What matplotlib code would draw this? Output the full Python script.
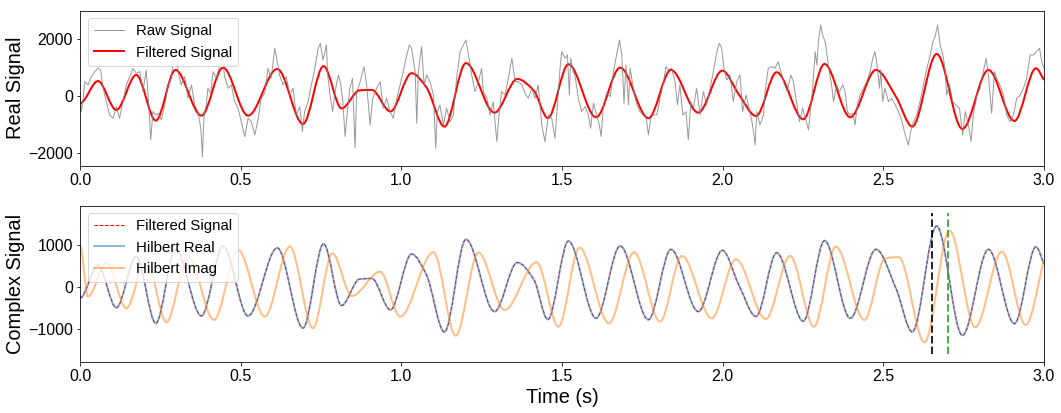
import numpy as np
import matplotlib
matplotlib.use('Agg')
import matplotlib.pyplot as plt
from matplotlib.path import Path
from matplotlib.patches import PathPatch
from matplotlib.lines import Line2D

plt.rcParams['font.family'] = ['Liberation Sans', 'DejaVu Sans']

# raw signal
raw_t = [0.000, 0.004, 0.009, 0.015, 0.025, 0.035, 0.046, 0.056, 0.064, 0.072, 0.082, 0.092, 0.103, 0.113, 0.123,
         0.134, 0.144, 0.155, 0.165, 0.175, 0.186, 0.196, 0.206, 0.214, 0.220, 0.227, 0.236, 0.243, 0.253, 0.264,
         0.274, 0.284, 0.293, 0.300, 0.305, 0.315, 0.326, 0.336, 0.347, 0.357, 0.367, 0.376, 0.381, 0.386, 0.393,
         0.398, 0.407, 0.414, 0.424, 0.435, 0.442, 0.450, 0.461, 0.471, 0.481, 0.492, 0.502, 0.513, 0.523, 0.533,
         0.544, 0.554, 0.564, 0.575, 0.585, 0.595, 0.606, 0.614, 0.621, 0.632, 0.642, 0.653, 0.663, 0.673, 0.684,
         0.692, 0.699, 0.710, 0.720, 0.730, 0.741, 0.748, 0.756, 0.767, 0.770, 0.778, 0.786, 0.794, 0.804, 0.811,
         0.818, 0.825, 0.832, 0.840, 0.848, 0.856, 0.861, 0.869, 0.877, 0.884, 0.892, 0.903, 0.911, 0.923, 0.934,
         0.944, 0.954, 0.965, 0.975, 0.986, 0.996, 1.006, 1.017, 1.025, 1.032, 1.043, 1.048, 1.053, 1.063, 1.071,
         1.079, 1.089, 1.100, 1.107, 1.112, 1.120, 1.131, 1.141, 1.152, 1.162, 1.172, 1.183, 1.193, 1.201, 1.209,
         1.219, 1.229, 1.240, 1.250, 1.255, 1.266, 1.276, 1.286, 1.297, 1.304, 1.312, 1.323, 1.333, 1.344, 1.354,
         1.364, 1.375, 1.385, 1.395, 1.406, 1.416, 1.426, 1.437, 1.447, 1.458, 1.468, 1.478, 1.486, 1.494, 1.499,
         1.510, 1.517, 1.523, 1.527, 1.535, 1.541, 1.551, 1.561, 1.572, 1.582, 1.589, 1.598, 1.608, 1.616, 1.622,
         1.629, 1.639, 1.650, 1.660, 1.670, 1.679, 1.686, 1.693, 1.699, 1.707, 1.712, 1.722, 1.733, 1.743, 1.753,
         1.762, 1.769, 1.776, 1.784, 1.795, 1.805, 1.816, 1.824, 1.831, 1.841, 1.852, 1.859, 1.867, 1.876, 1.886,
         1.893, 1.901, 1.909, 1.919, 1.930, 1.940, 1.950, 1.961, 1.971, 1.982, 1.990, 1.997, 2.004, 2.013, 2.023,
         2.033, 2.044, 2.054, 2.062, 2.073, 2.080, 2.090, 2.096, 2.101, 2.106, 2.116, 2.127, 2.132, 2.142, 2.153,
         2.163, 2.173, 2.181, 2.191, 2.201, 2.212, 2.220, 2.231, 2.239, 2.249, 2.259, 2.267, 2.272, 2.280, 2.288,
         2.293, 2.298, 2.305, 2.311, 2.319, 2.326, 2.332, 2.339, 2.345, 2.355, 2.363, 2.374, 2.381, 2.388, 2.397,
         2.405, 2.412, 2.419, 2.428, 2.438, 2.448, 2.459, 2.467, 2.474, 2.482, 2.488, 2.492, 2.498, 2.505, 2.516,
         2.526, 2.537, 2.547, 2.557, 2.568, 2.578, 2.585, 2.594, 2.604, 2.614, 2.625, 2.633, 2.646, 2.654, 2.661,
         2.669, 2.677, 2.685, 2.692, 2.697, 2.706, 2.716, 2.726, 2.737, 2.747, 2.755, 2.765, 2.773, 2.780, 2.791,
         2.801, 2.811, 2.820, 2.827, 2.837, 2.846, 2.853, 2.863, 2.874, 2.884, 2.894, 2.905, 2.915, 2.926, 2.936,
         2.946, 2.957, 2.967, 2.977, 2.986, 2.993, 3.000]
raw_v = [93, -546, -197, 499, 383, 673, 848, 964, 906, 267, -197, -662, -778, -372, -778,
         -197, 383, 673, 964, 789, 848, 151, 906, -313, -1533, -546, -662, -604, -836, -313,
         383, 615, 1544, 1660, 848, 383, 673, -81, 383, -313, -546, -1126, -2113, -662, -313,
         267, 93, 848, 615, 1080, 1428, 673, 267, 383, -197, -430, -894, -1416, -778, -894,
         -1358, -836, -81, 93, 964, 615, 1660, 1196, 731, 383, 673, 35, 267, -662, -372,
         -1242, -546, -197, 383, 906, 1660, 1834, 1254, 1776, 848, 35, -546, 151, 731, 441,
         -197, -1416, -546, 267, 615, -1823, 151, 383, 731, 1022, 383, -1010, -81, 267, 499,
         -430, -81, -546, -778, -81, 383, 848, 1428, 1776, 1660, 848, -952, 848, 1718, 383,
         731, 499, 35, -1823, -546, -313, -1010, -430, -894, -662, 615, 1544, 1776, 1950, 1428,
         731, 151, 499, 964, 151, -81, -662, -197, -1591, -662, 151, 35, 615, 1312, 499,
         499, 383, 93, -81, 267, -81, 383, -1010, -1591, -662, -778, -1474, -313, 964, 1544,
         1312, 1428, 35, 1312, 848, 673, -81, -546, -372, -662, -1126, -255, -662, -1010, -1416,
         -313, 93, -23, 848, 1428, 1950, 1428, -255, 1080, -313, 964, 267, -313, -546, -662,
         -778, -1358, -778, -662, -662, -81, 499, 1022, 906, 964, 499, -313, 383, -662, -546,
         -1533, -197, -430, 267, -662, 151, -313, 267, 848, 1544, 1834, 1660, 964, 557, 731,
         -197, 499, 731, -546, 35, -313, -836, -1242, -1707, -546, -1010, -662, 151, 964, 1022,
         964, 1196, 848, 441, 151, 731, 499, -313, -894, -430, -836, -1184, -662, 267, 1544,
         1080, 1892, 2473, 2125, 1892, 1312, 848, 383, -197, 383, 151, 383, 151, -546, -662,
         -604, -1010, -313, 35, 267, 499, 848, 1312, 1544, 964, 267, 906, -197, 267, -197,
         -81, -313, -546, -836, -1358, -1707, -1242, -894, -662, -197, 383, 848, 1428, 1892, 2067,
         2473, 1776, 1428, 964, 35, 383, -197, -313, -430, -1358, -546, -1010, -1591, -662, 35,
         267, 848, 1312, 731, -604, 848, 615, 383, 35, -662, -894, -662, -81, 35, 267,
         615, 1428, 1428, 1544, 1660, 1196, 964]

# band-pass filtered signal: turning points (and a few shoulders)
filt_t = [0.000, 0.056, 0.113, 0.175, 0.236, 0.297, 0.378, 0.445, 0.523, 0.614, 0.694, 0.758, 0.814, 0.870,
          0.908, 0.966, 1.032, 1.078, 1.134, 1.201, 1.290, 1.361, 1.412, 1.456, 1.520, 1.606, 1.681, 1.769,
          1.839, 1.924, 1.999, 2.050, 2.104, 2.168, 2.251, 2.317, 2.397, 2.477, 2.540, 2.590, 2.666, 2.746,
          2.827, 2.908, 2.975, 3.000]
filt_v = [-255, 520, -488, 732, -860, 906, -686, 986, -686, 941, -976, 1040, -436, 195,
          210, -540, 794, 300, -1070, 1145, -582, 592, 190, -770, 1104, -742, 986, -777,
          906, -582, 882, 60, -697, 826, -812, 1115, -742, 906, -40, -1068, 1463, -1150,
          906, -871, 965, 557]

# imaginary part of the analytic signal: turning points
imag_t = [0.000, 0.025, 0.082, 0.144, 0.206, 0.269, 0.336, 0.417, 0.492, 0.575, 0.653, 0.725, 0.785, 0.846,
          0.934, 0.996, 1.100, 1.169, 1.240, 1.321, 1.421, 1.489, 1.554, 1.646, 1.724, 1.805, 1.873, 1.966,
          2.041, 2.134, 2.210, 2.284, 2.352, 2.441, 2.505, 2.548, 2.628, 2.706, 2.786, 2.869, 2.943, 3.000]
imag_v = [1000, -223, 590, -502, 670, -837, 750, -782, 893, -702, 973, -981, 813, -208,
          373, -702, 837, -1158, 829, -543, 598, -942, 948, -862, 837, -822, 750, -742,
          670, -758, 750, -942, 973, -782, 690, 720, -1316, 1354, -957, 852, -902, 653]

event_times = [2.65, 2.70]
event_colors = ['k', '#2ca02c']


def smooth_path(t, v):
    # cubic Hermite pieces between the read points, handed to matplotlib as Bezier segments
    t = np.asarray(t, float)
    v = np.asarray(v, float)
    d = np.diff(v) / np.diff(t)
    m = np.zeros_like(v)
    for i in range(1, len(v) - 1):
        if d[i - 1] * d[i] > 0:
            m[i] = 2.0 / (1.0 / d[i - 1] + 1.0 / d[i])
    m[-1] = d[-1]
    verts = [(t[0], v[0])]
    codes = [Path.MOVETO]
    for i in range(len(t) - 1):
        h = t[i + 1] - t[i]
        verts += [(t[i] + h / 3, v[i] + m[i] * h / 3),
                  (t[i + 1] - h / 3, v[i + 1] - m[i + 1] * h / 3),
                  (t[i + 1], v[i + 1])]
        codes += [Path.CURVE4] * 3
    return Path(verts, codes)


W, H, DPI = 1061, 413, 72
fig = plt.figure(figsize=(W / DPI, H / DPI), dpi=DPI)
ax1 = fig.add_axes([80 / W, 1 - 165.7 / H, 964 / W, 155 / H])
ax2 = fig.add_axes([80 / W, 1 - 361.7 / H, 964 / W, 156 / H])

# top: raw vs filtered
ax1.plot(raw_t, raw_v, color='grey', alpha=0.8, lw=1)
ax1.add_patch(PathPatch(smooth_path(filt_t, filt_v), fill=False, edgecolor='r', lw=2))
ax1.legend(handles=[Line2D([], [], color='grey', alpha=0.8, lw=1),
                    Line2D([], [], color='r', lw=2)],
           labels=['Raw Signal', 'Filtered Signal'], loc='upper left', fontsize=15)
ax1.set_xlim(0, 3)
ax1.set_ylim(-2430, 2970)
ax1.set_yticks([-2000, 0, 2000])
ax1.set_ylabel('Real Signal', fontsize=20, labelpad=3)

# bottom: filtered vs hilbert parts
ax2.add_patch(PathPatch(smooth_path(filt_t, filt_v), fill=False, edgecolor='r', lw=1, linestyle='--'))
ax2.add_patch(PathPatch(smooth_path(filt_t, filt_v), fill=False, edgecolor='tab:blue', alpha=0.5, lw=2))
ax2.add_patch(PathPatch(smooth_path(imag_t, imag_v), fill=False, edgecolor='tab:orange', alpha=0.5, lw=2))
for x, c in zip(event_times, event_colors):
    ax2.axvline(x, ymin=0.05, ymax=0.95, color=c, linestyle='--', lw=2, alpha=0.85)
ax2.legend(handles=[Line2D([], [], color='r', lw=1, linestyle='--'),
                    Line2D([], [], color='tab:blue', alpha=0.5, lw=2),
                    Line2D([], [], color='tab:orange', alpha=0.5, lw=2)],
           labels=['Filtered Signal', 'Hilbert Real', 'Hilbert Imag'], loc='upper left', fontsize=15)
ax2.set_xlim(0, 3)
ax2.set_ylim(-1780, 1950)
ax2.set_yticks([-1000, 0, 1000])
ax2.set_ylabel('Complex Signal', fontsize=20, labelpad=3)
ax2.set_xlabel('Time (s)', fontsize=20)

for ax in (ax1, ax2):
    ax.set_xticks([0, 0.5, 1.0, 1.5, 2.0, 2.5, 3.0])
    ax.tick_params(labelsize=16)

fig.savefig('out.png', dpi=DPI)
